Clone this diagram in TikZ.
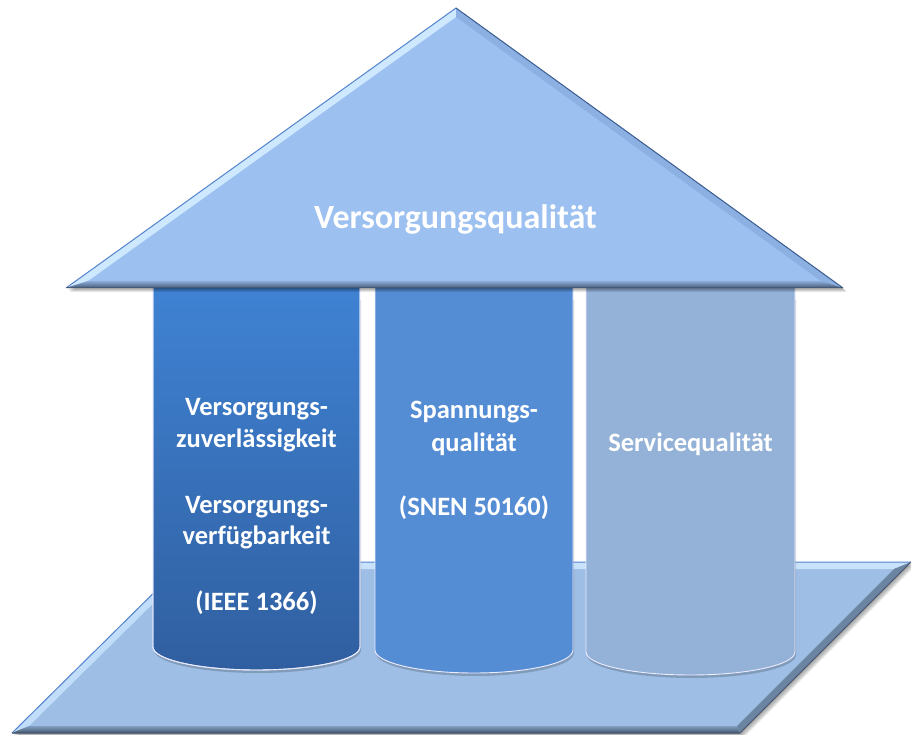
\documentclass[tikz,border=0pt]{standalone}
\usepackage{fontspec}
\setmainfont{Carlito}
\definecolor{roofc}{RGB}{156,192,240}
\definecolor{roofhi}{RGB}{205,232,255}
\definecolor{roofedge}{RGB}{84,132,204}
\definecolor{roofright}{RGB}{140,176,226}
\definecolor{roofdark}{RGB}{70,90,118}
\definecolor{basec}{RGB}{158,190,229}
\definecolor{basehi}{RGB}{200,226,252}
\definecolor{baseedge}{RGB}{80,132,204}
\definecolor{basedark}{RGB}{66,84,108}
\definecolor{colAtop}{RGB}{63,130,211}
\definecolor{colAbot}{RGB}{48,95,160}
\definecolor{colB}{RGB}{85,141,213}
\definecolor{colC}{RGB}{148,178,215}
\tikzset{
  shadowlayer/.style={fill=black, fill opacity=0.10, draw=none},
  pillar/.style={draw=white!75!blue!30, line width=0.9pt},
  lbl/.style={text=white, font=\bfseries\fontsize{26.5}{30}\selectfont, anchor=base, inner sep=0pt},
  ttl/.style={text=white, font=\bfseries\fontsize{34}{40}\selectfont, anchor=base, inner sep=0pt},
}
\begin{document}
\begin{tikzpicture}[x=1pt,y=1pt]
\useasboundingbox (0,0) rectangle (911,-735);
% ---------- base ----------
\coordinate (P1) at (12,-733);
\coordinate (P2) at (740,-733);
\coordinate (P3) at (911,-562);
\coordinate (P4) at (185,-562);
\coordinate (Q1) at (29,-726);
\coordinate (Q2) at (737,-726);
\coordinate (Q3) at (894,-569);
\coordinate (Q4) at (188,-569);
\foreach \s in {1,2,3,4}{
  \fill[shadowlayer] ([shift={(\s,-\s)}]P1) -- ([shift={(\s,-\s)}]P2) -- ([shift={(\s,-\s)}]P3) -- ([shift={(\s,-\s)}]P4) -- cycle;
}
\fill[basec] (P1) -- (P2) -- (P3) -- (P4) -- cycle;
\fill[basehi] (P4) -- (P3) -- (Q3) -- (Q4) -- cycle;
\fill[basehi!85!basec] (P1) -- (P4) -- (Q4) -- (Q1) -- cycle;
\shade[top color=basec!70!basedark, bottom color=basedark] (P1) -- (P2) -- (Q2) -- (Q1) -- cycle;
\fill[basec!45!basedark] (P2) -- (P3) -- (Q3) -- (Q2) -- cycle;
\draw[baseedge, line width=1pt] (P1) -- (P4) -- (P3);
\draw[basedark, line width=1pt] (P3) -- (P2) -- (P1);
% ---------- pillars ----------
% pillar 1
\fill[black, opacity=0.18] (154,-300) -- (154,-650) arc[start angle=180, end angle=360, x radius=103.5pt, y radius=23pt] -- (361,-300) -- cycle;
\shade[top color=colAtop, bottom color=colAbot, pillar] (153,-288) -- (153,-647) arc[start angle=180, end angle=360, x radius=103.5pt, y radius=23pt] -- (360,-288);
\draw[pillar] (153,-288) -- (153,-647) arc[start angle=180, end angle=360, x radius=103.5pt, y radius=23pt] -- (360,-288);
% pillar 2
\fill[black, opacity=0.18] (376,-300) -- (376,-653) arc[start angle=180, end angle=360, x radius=99pt, y radius=23pt] -- (574,-300) -- cycle;
\fill[colB] (375,-288) -- (375,-650) arc[start angle=180, end angle=360, x radius=99pt, y radius=23pt] -- (573,-288) -- cycle;
\draw[pillar] (375,-288) -- (375,-650) arc[start angle=180, end angle=360, x radius=99pt, y radius=23pt] -- (573,-288);
% pillar 3
\fill[black, opacity=0.18] (587,-300) -- (587,-655) arc[start angle=180, end angle=360, x radius=104.5pt, y radius=23pt] -- (796,-300) -- cycle;
\fill[colC] (586,-288) -- (586,-652) arc[start angle=180, end angle=360, x radius=104.5pt, y radius=23pt] -- (795,-288) -- cycle;
\draw[pillar] (586,-288) -- (586,-652) arc[start angle=180, end angle=360, x radius=104.5pt, y radius=23pt] -- (795,-288);
% ---------- roof ----------
\coordinate (A) at (66,-288);
\coordinate (B) at (456,-8);
\coordinate (C) at (843,-288);
\coordinate (A1) at (88,-281);
\coordinate (B1) at (456,-17);
\coordinate (C1) at (821,-281);
\foreach \s in {1,2,3,4}{
  \fill[shadowlayer] ([shift={(\s,-\s)}]A) -- ([shift={(\s,-\s)}]B) -- ([shift={(\s,-\s)}]C) -- cycle;
}
\fill[roofc] (A) -- (B) -- (C) -- cycle;
\fill[roofhi] (A) -- (B) -- (B1) -- (A1) -- cycle;
\fill[roofright] (B) -- (C) -- (C1) -- (B1) -- cycle;
\shade[top color=roofc!80!roofdark, bottom color=roofdark] (A) -- (C) -- (C1) -- (A1) -- cycle;
\draw[roofedge, line width=1pt] (A) -- (B);
\draw[roofedge!70!black, line width=1pt] (B) -- (C);
\draw[roofdark, line width=1pt] (A) -- (C);
% ---------- texts ----------
\node[ttl] (title) at (455.5,-229) {Versorgungsqualität};
\node[lbl] (a1) at (256.5,-416) {Versorgungs-};
\node[lbl] (a2) at (256.5,-447) {zuverlässigkeit};
\node[lbl] (a3) at (256.5,-513) {Versorgungs-};
\node[lbl] (a4) at (256.5,-544) {verfügbarkeit};
\node[lbl] (a5) at (256.5,-610) {(IEEE 1366)};
\node[lbl] (b1) at (474,-419) {Spannungs-};
\node[lbl] (b2) at (474,-451) {qualität};
\node[lbl] (b3) at (474,-515) {(SNEN 50160)};
\node[lbl] (c1) at (690.5,-451) {Servicequalität};
\end{tikzpicture}
\end{document}
